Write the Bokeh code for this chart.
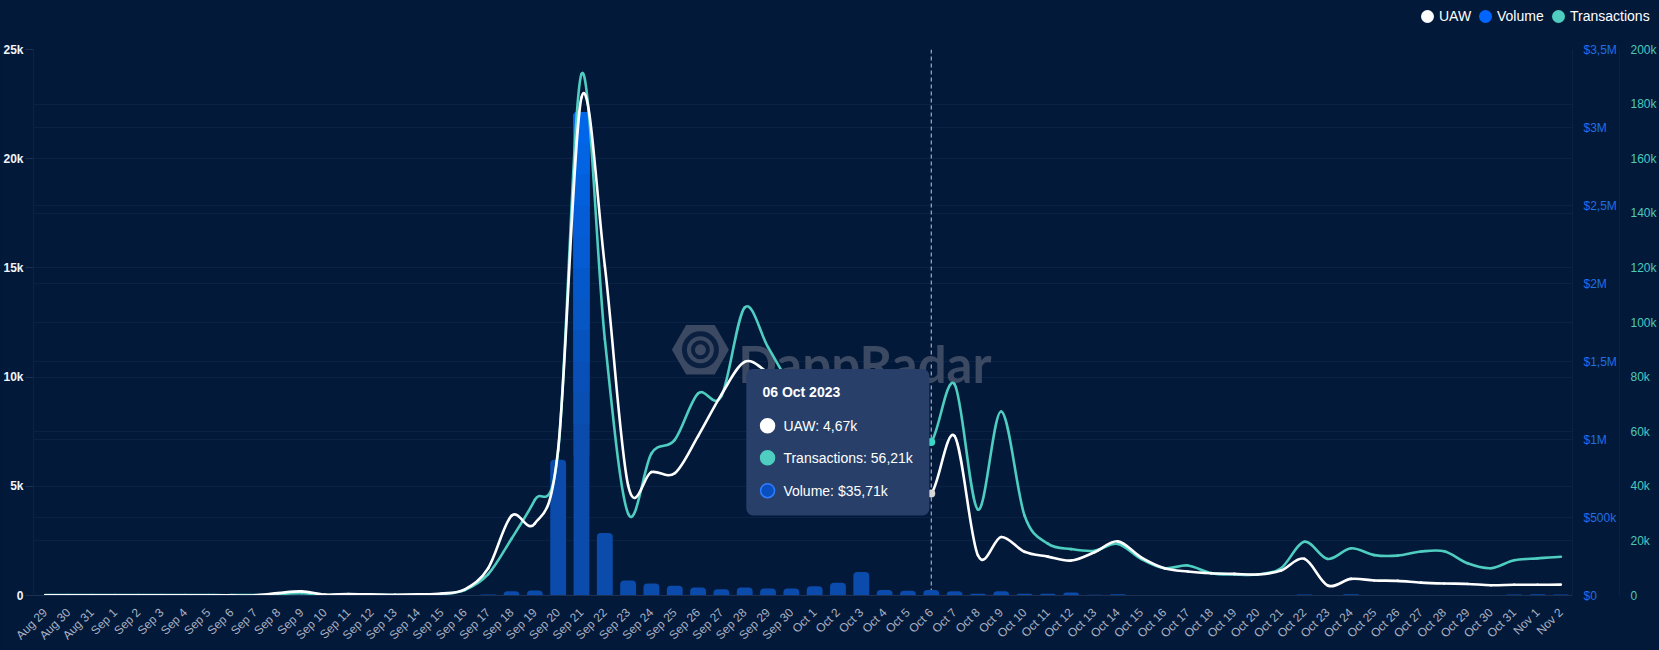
import numpy as np
import pandas as pd
from math import pi
from bokeh.plotting import figure
from bokeh.models import Range1d, LinearAxis, FixedTicker, Grid, Span, BoxAnnotation, Div
from bokeh.layouts import column
from bokeh.core.properties import value
from bokeh.embed import file_html
from bokeh.resources import INLINE

# ---------------- data ----------------
dates = pd.date_range("2023-08-29", "2023-11-02", freq="D")
day_labels = [f"{d:%b} {d.day}" for d in dates]

uaw = [5, 4, 6, 5, 4, 5, 6, 5, 4, 8,
       110, 190, 40, 70, 50, 35, 50, 90, 280, 1250,
       3650, 3300, 6700, 22800, 15100, 5050, 5650, 5600, 7300, 9200,
       10700, 10200, 9400, 8500, 7700, 7000, 6100, 5200, 4670, 7300,
       1840, 2680, 2000, 1780, 1600, 1980, 2480, 1750, 1250, 1100,
       1020, 990, 960, 1140, 1680, 460, 760, 690, 670, 590,
       550, 530, 470, 490, 490, 500]

transactions = [150, 120, 140, 130, 120, 140, 150, 130, 120, 200,
                500, 800, 200, 300, 300, 200, 300, 500, 2000, 7800,
                20800, 35000, 53000, 191000, 94000, 30000, 52000, 57000, 74000, 73000,
                105500, 91000, 77000, 70000, 66000, 63000, 60000, 57000, 56210, 77400,
                31500, 67400, 29300, 19000, 17000, 16400, 18900, 13400, 10000, 11000,
                8200, 7700, 7700, 10000, 19700, 13400, 17300, 14800, 14600, 16100,
                16200, 11800, 10000, 12900, 13600, 14200]

volume = [0, 0, 0, 0, 0, 0, 0, 0, 0, 0,
          0, 0, 0, 0, 0, 0, 0, 1000, 3000, 6000,
          28000, 32000, 870000, 3100000, 400000, 96000, 77000, 62000, 51000, 40000,
          51000, 45000, 45000, 60000, 81000, 151000, 36000, 30000, 35710, 28000,
          11000, 28000, 11000, 11000, 19000, 5000, 8000, 3000, 2000, 3000,
          1000, 2000, 2000, 2000, 6000, 3000, 8000, 2000, 2000, 2000,
          4000, 2000, 2000, 6000, 8000, 7000]

left_ticks = [0, 5000, 10000, 15000, 20000, 25000]
left_tick_labels = ["0", "5k", "10k", "15k", "20k", "25k"]
vol_ticks = [0, 500000, 1000000, 1500000, 2000000, 2500000, 3000000, 3500000]
vol_tick_labels = ["$0", "$500k", "$1M", "$1,5M", "$2M", "$2,5M", "$3M", "$3,5M"]
tx_ticks = [0, 20000, 40000, 60000, 80000, 100000, 120000, 140000, 160000, 180000, 200000]
tx_tick_labels = ["0", "20k", "40k", "60k", "80k", "100k", "120k", "140k", "160k", "180k", "200k"]

series_names = ["UAW", "Volume", "Transactions"]
hover_day = "Oct 6"
hover_title = "06 Oct 2023"

# ---------------- style ----------------
BG = "#03193a"
FONT = "Liberation Sans"
WHITE = "#ffffff"
TEAL = "#4ecdc0"
BLUE_LEG = "#0066ff"
BAR = (10, 75, 171)
BAR_TOP = (0, 104, 240)
GRID = "#1b3052"
FAINT = "#0a2243"

W = 1659
HEADER_H = 40
H = 610
B_LEFT, B_RIGHT, B_TOP, B_BOTTOM = 33, 86, 9, 53

x = np.arange(len(day_labels), dtype=float)
uaw_a = np.asarray(uaw, float)
tx_a = np.asarray(transactions, float)
vol_a = np.asarray(volume, float)


def spline_segments(xv, yv):
    n = len(yv)
    yp = np.concatenate([[yv[0]], yv, [yv[-1]]])
    x0, x1 = xv[:-1], xv[1:]
    y0, y1 = yv[:-1], yv[1:]
    cy0 = y0 + (yp[2:n + 1] - yp[0:n - 1]) / 6.0
    cy1 = y1 - (yp[3:n + 2] - yp[1:n]) / 6.0
    return dict(x0=x0, y0=y0, x1=x1, y1=y1,
                cx0=x0 + 1 / 3, cy0=cy0, cx1=x1 - 1 / 3, cy1=cy1)


# ---------------- figure ----------------
p = figure(width=W, height=H, x_range=Range1d(-0.5, len(x) - 0.5),
           y_range=Range1d(0, 25000), output_backend="svg", toolbar_location=None,
           tools="", min_border_left=B_LEFT, min_border_right=B_RIGHT,
           min_border_top=B_TOP, min_border_bottom=B_BOTTOM,
           background_fill_color=BG, border_fill_color=BG,
           outline_line_color=None, title=None)
p.extra_y_ranges = {"vol": Range1d(0, 3500000), "tx": Range1d(0, 200000)}

# x axis
xa = p.xaxis[0]
xa.ticker = FixedTicker(ticks=list(range(len(day_labels))))
xa.major_label_overrides = {i: lab for i, lab in enumerate(day_labels)}
xa.major_label_orientation = pi / 4
xa.major_label_text_font = FONT
xa.major_label_text_font_size = "12px"
xa.major_label_text_color = "#a9b1c2"
xa.major_tick_line_color = None
xa.major_tick_out = 0
xa.major_tick_in = 0
xa.minor_tick_line_color = None
xa.axis_line_color = "#1d3154"
xa.major_label_standoff = 15

# left axis
ya = p.yaxis[0]
ya.ticker = FixedTicker(ticks=left_ticks)
ya.major_label_overrides = dict(zip(left_ticks, left_tick_labels))
ya.major_label_text_font = FONT
ya.major_label_text_font_size = "12px"
ya.major_label_text_font_style = "bold"
ya.major_label_text_color = "#f2f4f8"
ya.major_tick_out = 8
ya.major_tick_in = 0
ya.major_tick_line_color = GRID
ya.minor_tick_line_color = None
ya.axis_line_color = FAINT
ya.major_label_standoff = 2

vol_axis = LinearAxis(y_range_name="vol", ticker=FixedTicker(ticks=vol_ticks),
                      major_label_overrides=dict(zip(vol_ticks, vol_tick_labels)))
tx_axis = LinearAxis(y_range_name="tx", ticker=FixedTicker(ticks=tx_ticks),
                     major_label_overrides=dict(zip(tx_ticks, tx_tick_labels)))
for ax, col in ((vol_axis, "#1f6fe5"), (tx_axis, "#4cc9bb")):
    ax.major_label_text_font = FONT
    ax.major_label_text_font_size = "12px"
    ax.major_label_text_color = col
    ax.major_tick_line_color = None
    ax.major_tick_out = 0
    ax.major_tick_in = 0
    ax.minor_tick_line_color = None
    ax.axis_line_color = FAINT
    ax.major_label_standoff = 11
    p.add_layout(ax, "right")

p.xgrid.visible = False
p.ygrid.ticker = FixedTicker(ticks=left_ticks)
p.ygrid.grid_line_color = GRID
p.add_layout(Grid(dimension=1, ticker=FixedTicker(ticks=vol_ticks), y_range_name="vol",
                  grid_line_color=FAINT), "center")
p.add_layout(Grid(dimension=1, ticker=FixedTicker(ticks=tx_ticks), y_range_name="tx",
                  grid_line_color=FAINT), "center")

# watermark
WM = "#3b4963"
p.scatter(x=[28.1], y=[11250], marker="hex", size=57, fill_color=WM, line_color=None)
p.scatter(x=[28.1], y=[11250], marker="circle", size=32, fill_color=None,
          line_color=BG, line_width=5, line_alpha=0.85)
p.scatter(x=[28.1], y=[11250], marker="circle", size=15, fill_color=None,
          line_color=BG, line_width=4, line_alpha=0.85)
p.text(x=[29.72], y=[10620], text=["DappRadar"], text_font=value("Lato"),
       text_font_style="bold", text_font_size="51px", text_color=WM,
       text_baseline="alphabetic", text_align="left")

# hover guide line
hidx = day_labels.index(hover_day)
p.add_layout(Span(location=hidx, dimension="height", line_color="#c3c9d4",
                  line_dash="4 3", line_width=1, level="underlay"))


def hexcol(c):
    return "#%02x%02x%02x" % tuple(int(round(v)) for v in c)


# volume bars with a top gradient
p.vbar(x=x, top=vol_a, bottom=0, width=0.68, fill_color=hexcol(BAR), line_color=None,
       border_radius=(4, 4, 0, 0), y_range_name="vol")
levels = np.arange(900000, 3100001, 200000)
for lo in levels:
    m = vol_a > lo + 1
    if not m.any():
        continue
    t = (lo - levels[0]) / (levels[-1] - levels[0])
    c = tuple(BAR[k] + (BAR_TOP[k] - BAR[k]) * t for k in range(3))
    p.vbar(x=x[m], top=vol_a[m], bottom=lo, width=0.68, fill_color=hexcol(c),
           line_color=None, border_radius=(4, 4, 0, 0), y_range_name="vol")

# smooth lines
p.bezier(**spline_segments(x, tx_a), line_color=TEAL, line_width=2.6,
         line_cap="round", y_range_name="tx")
p.bezier(**spline_segments(x, uaw_a), line_color=WHITE, line_width=2.6,
         line_cap="round")

# hover dots
p.scatter(x=[hidx], y=[tx_a[hidx]], size=8, fill_color="#3ad6c6", line_color=None,
          y_range_name="tx")
p.scatter(x=[hidx], y=[uaw_a[hidx]], size=8, fill_color="#d6d6d6", line_color=None)

# tooltip
p.add_layout(BoxAnnotation(left=30.07, right=37.92, top=10370, bottom=3660,
                           fill_color="#283f6a", fill_alpha=1.0, line_color=None,
                           border_radius=7))


def k_fmt(v):
    return f"{v / 1000:.2f}k".replace(".", ",")


tip_rows = [f"UAW: {k_fmt(uaw_a[hidx])}",
            f"Transactions: {k_fmt(tx_a[hidx])}",
            f"Volume: ${k_fmt(vol_a[hidx])}"]
row_y = [7770, 6310, 4800]
p.text(x=[30.76], y=[9320], text=[hover_title], text_font=value(FONT),
       text_font_style="bold", text_font_size="14px", text_color=WHITE,
       text_baseline="middle", level="overlay")
p.scatter(x=[30.98] * 3, y=row_y, size=14,
          fill_color=[WHITE, TEAL, "#0a4fc0"],
          line_color=[WHITE, TEAL, "#2f7dff"], line_width=1.5, level="overlay")
p.text(x=[31.66] * 3, y=row_y, text=tip_rows, text_font=value(FONT),
       text_font_size="14px", text_color=WHITE, text_baseline="middle",
       level="overlay")

# ---------------- legend header ----------------
leg_cx = [1427, 1485, 1558]
leg_cy = 16
leg_colors = [WHITE, BLUE_LEG, TEAL]
parts = []
for cx, col, name in zip(leg_cx, leg_colors, series_names):
    parts.append(f'<span style="position:absolute;left:{cx - 6.5}px;top:{leg_cy - 6.5}px;'
                 f'width:13px;height:13px;border-radius:50%;background:{col};"></span>')
    parts.append(f'<span style="position:absolute;left:{cx + 12}px;top:{leg_cy - 8}px;'
                 f'line-height:16px;white-space:nowrap;">{name}</span>')
legend_html = (f'<div style="position:relative;width:{W}px;height:{HEADER_H}px;'
               f"font-family:'Liberation Sans',Arial,sans-serif;font-size:14px;color:#ffffff;\">"
               + "".join(parts) + "</div>")
header = Div(text=legend_html, width=W, height=HEADER_H, margin=0,
             styles={"background-color": BG})

layout = column(header, p, spacing=0)
html = file_html(layout, INLINE)
html = html.replace("<head>", "<head><style>html,body{background:#03193a;margin:0;}</style>", 1)
open("out.html", "w").write(html)
